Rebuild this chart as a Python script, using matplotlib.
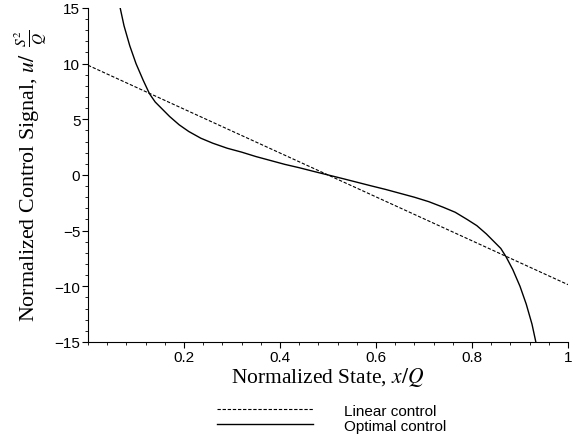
import matplotlib
matplotlib.use("Agg")
import matplotlib.pyplot as plt
from matplotlib.ticker import MultipleLocator, FixedLocator, FixedFormatter

# linear control, end points
lin_x = [0.0, 1.0]
lin_u = [9.85, -9.85]

# optimal control, points
opt_x = [0.067, 0.075, 0.087, 0.10, 0.115, 0.128, 0.14, 0.155, 0.17, 0.19,
         0.21, 0.235, 0.26, 0.29, 0.32, 0.35, 0.38, 0.41, 0.44, 0.47, 0.50,
         0.53, 0.56, 0.59, 0.62, 0.65, 0.68, 0.71, 0.74, 0.765, 0.79,
         0.81, 0.83, 0.845, 0.86, 0.871, 0.885, 0.90, 0.913, 0.925, 0.933]
opt_u = [15.0, 13.4, 11.6, 10.0, 8.5, 7.3, 6.55, 5.9, 5.25, 4.5,
         3.9, 3.3, 2.85, 2.4, 2.05, 1.65, 1.3, 0.95, 0.65, 0.32, 0.0,
         -0.32, -0.65, -0.98, -1.3, -1.65, -2.0, -2.4, -2.9, -3.35, -4.0,
         -4.55, -5.3, -5.95, -6.6, -7.35, -8.5, -10.0, -11.6, -13.4, -15.0]

xticks = [0.2, 0.4, 0.6, 0.8, 1.0]
xtick_labels = ["0.2", "0.4", "0.6", "0.8", "1"]

plt.rcParams["font.family"] = "Liberation Sans"
plt.rcParams["mathtext.fontset"] = "stix"

fig = plt.figure(figsize=(5.79, 4.39), dpi=100)
ax = fig.add_axes([0.152, 0.2187, 0.829, 0.761])

ax.plot(lin_x, lin_u, color="black", lw=0.8, ls=(0, (3, 1.6)), label="Linear control")
ax.plot(opt_x, opt_u, color="black", lw=1.0, label="Optimal control")

ax.set_xlim(0, 1)
ax.set_ylim(-15, 15)
ax.spines["top"].set_visible(False)
ax.spines["right"].set_visible(False)
ax.xaxis.set_major_locator(FixedLocator(xticks))
ax.xaxis.set_major_formatter(FixedFormatter(xtick_labels))
ax.xaxis.set_minor_locator(MultipleLocator(0.04))
ax.yaxis.set_major_locator(MultipleLocator(5))
ax.yaxis.set_minor_locator(MultipleLocator(1))
ax.tick_params(which="major", length=4, labelsize=11, pad=1.5)
ax.tick_params(which="minor", length=2.5)

ax.set_xlabel(r"Normalized State, $x/Q$", family="Liberation Serif", size=15.5, labelpad=1)
ax.set_ylabel(r"Normalized Control Signal, $u/\;\;\frac{S^2}{Q}$",
              family="Liberation Serif", size=15.8, labelpad=3)

fig.legend(loc="upper left", bbox_to_anchor=(0.375, 0.078), frameon=False,
           fontsize=11, handlelength=6.3, handletextpad=2.0, labelspacing=0.05,
           borderpad=0, borderaxespad=0)

fig.savefig("out.png", dpi=100)
